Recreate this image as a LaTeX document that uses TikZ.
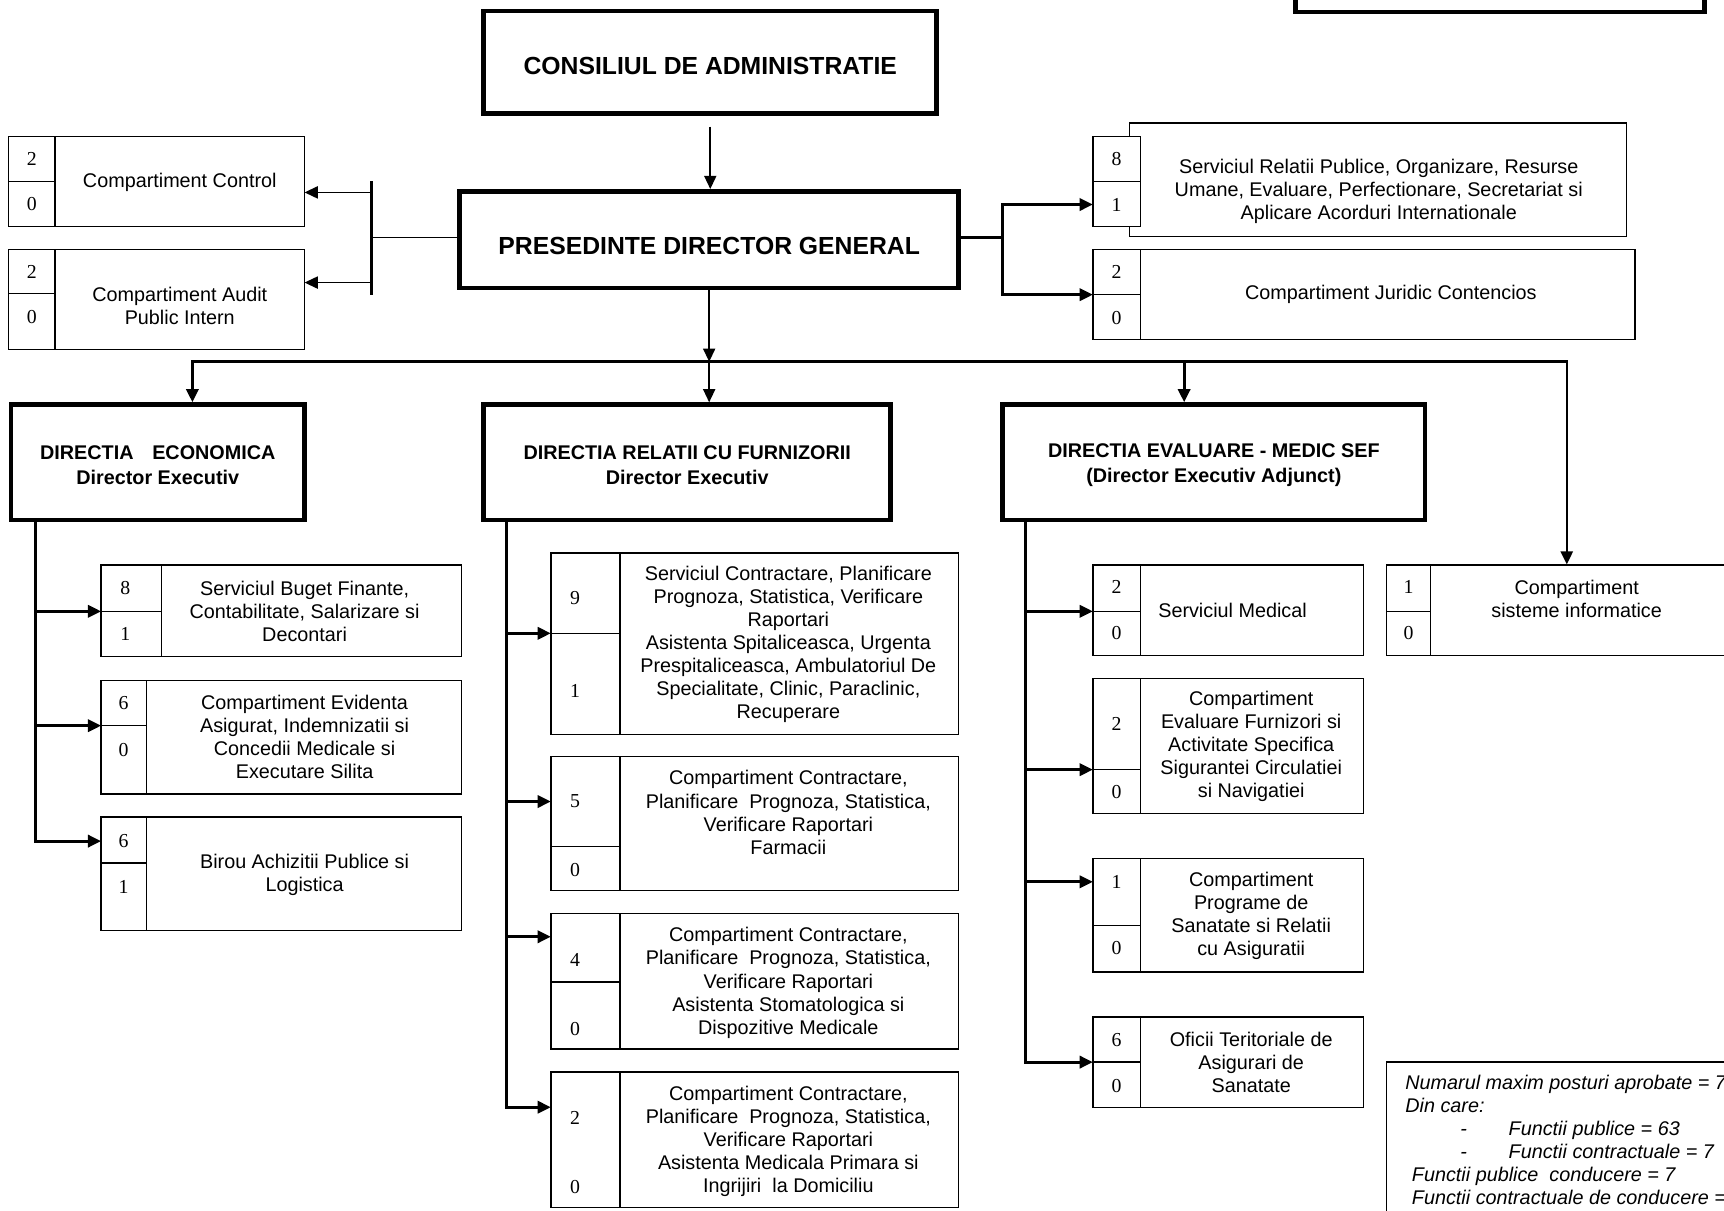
\documentclass[tikz,border=0pt]{standalone}
\usepackage{fontspec}
\setmainfont{Liberation Sans}
\newfontfamily\numfont{Liberation Serif}
\usetikzlibrary{arrows.meta,fit}
\tikzset{
  thickbox/.style={draw, line width=4.2pt, inner sep=0pt},
  ubox/.style={draw, line width=1.2pt, inner sep=0pt},
  wbox/.style={ubox, fill=white},
  inl/.style={line width=1.2pt},
  txt/.style={font=\fontsize{18}{21}\selectfont, align=center, inner sep=0pt},
  num/.style={font=\numfont\fontsize{18}{21}\selectfont, inner sep=0pt},
  hdr/.style={font=\bfseries\fontsize{18}{22}\selectfont, align=center, inner sep=0pt},
  bighdr/.style={font=\bfseries\fontsize{22.5}{27}\selectfont, inner sep=0pt},
  leg/.style={font=\itshape\fontsize{18}{21}\selectfont, inner sep=0pt, anchor=west, text height=13pt, text depth=4pt},
  arrtip/.style={-{Triangle[length=12pt,width=11pt]}},
  thinarr/.style={arrtip, line width=1.5pt},
  midarr/.style={arrtip, line width=2.2pt},
  thickarr/.style={arrtip, line width=2.8pt},
  thinline/.style={line width=1.8pt},
  thickline/.style={line width=2.8pt},
}
\newcommand\unitbx[6]{%
  \node[ubox, fit={(#2,#3) (#4,#5)}] (#1) {};
  \draw[inl] (#6,#3) -- (#6,#5);
}
\begin{document}
\begin{tikzpicture}[x=1pt,y=-1pt]
\useasboundingbox (0,0) rectangle (1568,1101);

% ---------- top ----------
\node[thickbox, fit={(1178,-30) (1550,11)}] (topbox) {};
\node[thickbox, fit={(440,10) (852,103)}] (cons) {};
\node[bighdr] (cons-t) at (646,60) {CONSILIUL DE ADMINISTRATIE};
\node[thickbox, fit={(418,174) (872,262)}] (pdg) {};
\node[bighdr] (pdg-t) at (645,224) {PRESEDINTE DIRECTOR GENERAL};
\draw[thinarr, shorten <=10pt] (cons.south) -- (cons.south |- pdg.north);

% ---------- left of PDG ----------
\unitbx{ctrl}{8}{124}{277}{206}{50}
\draw[inl] (8,165) -- (50,165);
\node[num] (ctrl-a) at (29,145) {2};
\node[num] (ctrl-b) at (29,186) {0};
\node[txt] (ctrl-t) at (163.5,166) {Compartiment Control};

\unitbx{aud}{8}{227}{277}{318}{50}
\draw[inl] (8,267) -- (50,267);
\node[num] (aud-a) at (29,247) {2};
\node[num] (aud-b) at (29,288) {0};
\node[txt] (aud-t) at (163.5,278) {Compartiment Audit\\Public Intern};

\coordinate (lbar) at (338,216);
\coordinate (lbar-top) at (338,165);
\coordinate (lbar-bot) at (338,268);
\draw[thinline] (lbar -| pdg.west) -- (lbar);
\draw[thickline] (lbar-top) -- (lbar-bot);
\coordinate (ctrl-in) at (277,175);
\coordinate (aud-in) at (277,257);
\draw[thinarr] (ctrl-in -| lbar) -- (ctrl-in);
\draw[thinarr] (aud-in -| lbar) -- (aud-in);

% ---------- right of PDG ----------
\node[ubox, fit={(1027,112) (1479,215)}] (relbox) {};
\node[wbox, fit={(994,124) (1037,206)}] (relcol) {};
\draw[inl] (994,165) -- (1037,165);
\node[num] (rel-a) at (1015.5,145) {8};
\node[num] (rel-b) at (1015.5,186) {1};
\node[txt] (rel-t) at (1254,174) {Serviciul Relatii Publice, Organizare, Resurse\\Umane, Evaluare, Perfectionare, Secretariat si\\Aplicare Acorduri Internationale};

\unitbx{jur}{994}{227}{1487}{309}{1037}
\draw[inl] (994,268) -- (1037,268);
\node[num] (jur-a) at (1015.5,247) {2};
\node[num] (jur-b) at (1015.5,289) {0};
\node[txt] (jur-t) at (1265,268) {Compartiment Juridic Contencios};

\coordinate (rbar) at (912,216);
\draw[thickline] (rbar -| pdg.east) -- (rbar);
\coordinate (rel-in) at (994,186);
\coordinate (jur-in) at (994,268);
\draw[thickarr] (rbar) |- (rel-in);
\draw[thickarr] (rbar) |- (jur-in);

% ---------- directions ----------
\node[thickbox, fit={(10,368) (277,473)}] (de) {};
\node[hdr] (de-t) at (143.5,423) {DIRECTIA\hspace{17pt}ECONOMICA\\Director Executiv};
\node[thickbox, fit={(440,368) (810,473)}] (drcf) {};
\node[hdr] (drcf-t) at (625,423) {DIRECTIA RELATII CU FURNIZORII\\Director Executiv};
\node[thickbox, fit={(912,368) (1296,473)}] (dems) {};
\node[hdr] (dems-t) at (1104,423) {DIRECTIA EVALUARE - MEDIC SEF\\(Director Executiv Adjunct)};

% ---------- sisteme informatice ----------
\unitbx{sis}{1261}{514}{1590}{596}{1301}
\draw[inl] (1261,556) -- (1301,556);
\node[num] (sis-a) at (1281,534) {1};
\node[num] (sis-b) at (1281,576) {0};
\node[txt] (sis-t) at (1434,545) {Compartiment\\sisteme informatice};

% ---------- bus ----------
\coordinate (bus1) at (175,329);
\coordinate (bus2) at (645,329);
\coordinate (bus3) at (1077,329);
\coordinate (bus4) at (1425,329);
\draw[line width=3pt, line cap=rect] (bus1) -- (bus4);
\draw[thinarr] (pdg.south) -- (pdg.south |- bus2);
\draw[thickarr] (bus1) -- (bus1 |- de.north);
\draw[thinarr] (bus2) -- (bus2 |- drcf.north);
\draw[thickarr] (bus3) -- (bus3 |- dems.north);
\draw[midarr] (bus4) -- (bus4 |- sis.north);

% ---------- economica children ----------
\unitbx{bug}{92}{514}{420}{597}{147}
\draw[inl] (92,556) -- (147,556);
\node[num] (bug-a) at (114,535) {8};
\node[num] (bug-b) at (114,577) {1};
\node[txt] (bug-t) at (277,556) {Serviciul Buget Finante,\\Contabilitate, Salarizare si\\Decontari};

\unitbx{evi}{92}{619}{420}{722}{133}
\draw[inl] (92,660) -- (133,660);
\node[num] (evi-a) at (112.5,639) {6};
\node[num] (evi-b) at (112.5,682) {0};
\node[txt] (evi-t) at (277,670.5) {Compartiment Evidenta\\Asigurat, Indemnizatii si\\Concedii Medicale si\\Executare Silita};

\unitbx{bir}{92}{743}{420}{846}{133}
\draw[inl] (92,785) -- (133,785);
\node[num] (bir-a) at (112.5,765) {6};
\node[num] (bir-b) at (112.5,807) {1};
\node[txt] (bir-t) at (277,796) {Birou Achizitii Publice si\\Logistica};

\coordinate (desp) at (32,0);
\coordinate (bug-in) at (92,556);
\coordinate (evi-in) at (92,660);
\coordinate (bir-in) at (92,765);
\draw[thickarr] (de.south -| desp) |- (bug-in);
\draw[thickarr] (de.south -| desp) |- (evi-in);
\draw[thickarr] (de.south -| desp) |- (bir-in);

% ---------- relatii cu furnizorii children ----------
\unitbx{sc}{501}{503}{872}{668}{564}
\draw[inl] (501,576) -- (564,576);
\node[num] (sc-a) at (523,544) {9};
\node[num] (sc-b) at (523,628) {1};
\node[txt] (sc-t) at (717,586) {Serviciul Contractare, Planificare\\Prognoza, Statistica, Verificare\\Raportari\\Asistenta Spitaliceasca, Urgenta\\Prespitaliceasca, Ambulatoriul De\\Specialitate, Clinic, Paraclinic,\\Recuperare};

\unitbx{cf}{501}{688}{872}{810}{564}
\draw[inl] (501,770) -- (564,770);
\node[num] (cf-a) at (523,729) {5};
\node[num] (cf-b) at (523,791) {0};
\node[txt] (cf-t) at (717,739) {Compartiment Contractare,\\Planificare\ \ Prognoza, Statistica,\\Verificare Raportari\\Farmacii};

\unitbx{cs}{501}{831}{872}{954}{564}
\draw[inl] (501,893) -- (564,893);
\node[num] (cs-a) at (523,873) {4};
\node[num] (cs-b) at (523,936) {0};
\node[txt] (cs-t) at (717,894) {Compartiment Contractare,\\Planificare\ \ Prognoza, Statistica,\\Verificare Raportari\\Asistenta Stomatologica si\\Dispozitive Medicale};

\unitbx{cm}{501}{975}{872}{1098}{564}
\node[num] (cm-a) at (523,1017) {2};
\node[num] (cm-b) at (523,1080) {0};
\node[txt] (cm-t) at (717,1038) {Compartiment Contractare,\\Planificare\ \ Prognoza, Statistica,\\Verificare Raportari\\Asistenta Medicala Primara si\\Ingrijiri\ \ la Domiciliu};

\coordinate (drsp) at (461,0);
\coordinate (sc-in) at (501,576);
\coordinate (cf-in) at (501,729);
\coordinate (cs-in) at (501,852);
\coordinate (cm-in) at (501,1007);
\draw[thickarr] (drcf.south -| drsp) |- (sc-in);
\draw[thickarr] (drcf.south -| drsp) |- (cf-in);
\draw[thickarr] (drcf.south -| drsp) |- (cs-in);
\draw[thickarr] (drcf.south -| drsp) |- (cm-in);

% ---------- evaluare children ----------
\unitbx{sm}{994}{514}{1240}{596}{1037}
\draw[inl] (994,556) -- (1037,556);
\node[num] (sm-a) at (1015.5,534) {2};
\node[num] (sm-b) at (1015.5,576) {0};
\node[txt] (sm-t) at (1121,555) {Serviciul Medical};

\unitbx{ce}{994}{617}{1240}{740}{1037}
\draw[inl] (994,700) -- (1037,700);
\node[num] (ce-a) at (1015.5,658) {2};
\node[num] (ce-b) at (1015.5,720) {0};
\node[txt] (ce-t) at (1138,679) {Compartiment\\Evaluare Furnizori si\\Activitate Specifica\\Sigurantei Circulatiei\\si Navigatiei};

\unitbx{cp}{994}{781}{1240}{884}{1037}
\draw[inl] (994,842) -- (1037,842);
\node[num] (cp-a) at (1015.5,802) {1};
\node[num] (cp-b) at (1015.5,862) {0};
\node[txt] (cp-t) at (1138,833) {Compartiment\\Programe de\\Sanatate si Relatii\\cu Asiguratii};

\unitbx{ot}{994}{925}{1240}{1007}{1037}
\draw[inl] (994,966) -- (1037,966);
\node[num] (ot-a) at (1015.5,946) {6};
\node[num] (ot-b) at (1015.5,988) {0};
\node[txt] (ot-t) at (1138,966) {Oficii Teritoriale de\\Asigurari de\\Sanatate};

\coordinate (dmsp) at (933,0);
\coordinate (sm-in) at (994,556);
\coordinate (ce-in) at (994,700);
\coordinate (cp-in) at (994,802);
\coordinate (ot-in) at (994,966);
\draw[thickarr] (dems.south -| dmsp) |- (sm-in);
\draw[thickarr] (dems.south -| dmsp) |- (ce-in);
\draw[thickarr] (dems.south -| dmsp) |- (cp-in);
\draw[thickarr] (dems.south -| dmsp) |- (ot-in);

% ---------- legend ----------
\node[ubox, fit={(1261,966) (1600,1130)}] (legend) {};
\node[leg] (lg1) at (1278,986) {Numarul maxim posturi aprobate = 7};
\node[leg] (lg2) at (1278,1007) {Din care:};
\node[leg] (lg3d) at (1328,1028) {-};
\node[leg] (lg3) at (1372,1028) {Functii publice = 63};
\node[leg] (lg4d) at (1328,1049) {-};
\node[leg] (lg4) at (1372,1049) {Functii contractuale = 7};
\node[leg] (lg5) at (1284,1070) {Functii publice\ \ conducere = 7};
\node[leg] (lg6) at (1284,1091) {Functii contractuale de conducere =};
\end{tikzpicture}
\end{document}
